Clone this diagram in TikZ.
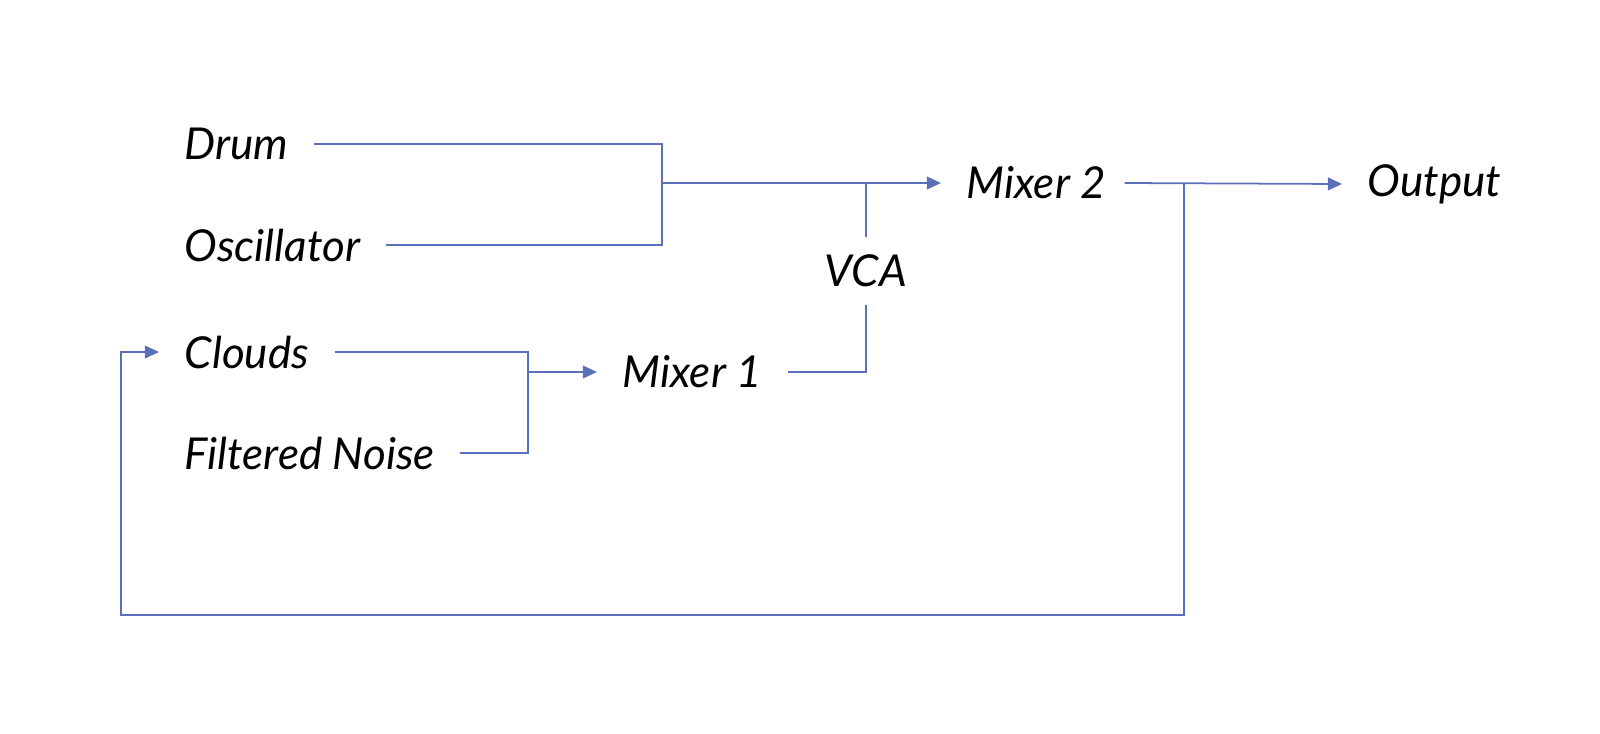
\documentclass[tikz,border=0pt]{standalone}
\usepackage{fontspec}
\setmainfont{Lato}
\usepackage{tikz}
\usetikzlibrary{arrows.meta,positioning,calc}
\definecolor{wireBlue}{RGB}{92,112,186}
\tikzset{
  modlabel/.style={inner xsep=0.25cm,inner ysep=2pt,anchor=west,font=\fontsize{12.5}{15}\selectfont\itshape},
  vcalabel/.style={inner xsep=2pt,inner ysep=0.17cm,font=\fontsize{12.5}{15}\selectfont\itshape},
  wire/.style={draw=wireBlue,line width=0.5pt},
  wirearr/.style={wire,-{Triangle[length=4pt,width=3.6pt]},color=wireBlue}
}
\begin{document}
\begin{tikzpicture}[x=0.01cm,y=-0.01cm]
  \useasboundingbox (0,0) rectangle (1600,733);

  %% Sources
  \node[modlabel] (drum)   at (159,144) {Drum};
  \node[modlabel] (osc)    at (159,245) {Oscillator};
  \node[modlabel] (clouds) at (159,352) {Clouds};
  \node[modlabel] (noise)  at (159,453) {Filtered Noise};

  %% Mixers, VCA and output
  \node[modlabel] (mixa)   at (597,372) {Mixer 1};
  \node[modlabel] (mixb)   at (941,183) {Mixer 2};
  \node[vcalabel] (vca)    at (866,271) {VCA};
  \node[modlabel] (output) at (1342,184) {Output};

  %% Junctions
  \coordinate (jDrum) at (662,183);
  \coordinate (jNoise) at (528,372);
  \coordinate (jVca) at (vca.north |- mixb.west);
  \coordinate (jOut) at (1184,183);
  \coordinate (fbLeft) at (121,615);

  %% Drum + Oscillator -> Mixer 2
  \draw[wire] (drum.east) -| (jDrum) |- (osc.east);
  \draw[wirearr] (jDrum) -- (mixb.west);

  %% Clouds + Filtered Noise -> Mixer 1
  \draw[wire] (clouds.east) -| (jNoise) |- (noise.east);
  \draw[wirearr] (jNoise) -- (mixa.west);

  %% Mixer 1 -> VCA -> Mixer 2
  \draw[wire] (mixa.east) -| (vca.south);
  \draw[wire] (vca.north) -- (jVca);

  %% Mixer 2 -> Output, and feedback to Clouds
  \draw[wirearr] ([xshift=-0.07cm]mixb.east) -- (output.west);
  \draw[wirearr] (jOut) |- (fbLeft) |- (clouds.west);
\end{tikzpicture}
\end{document}
